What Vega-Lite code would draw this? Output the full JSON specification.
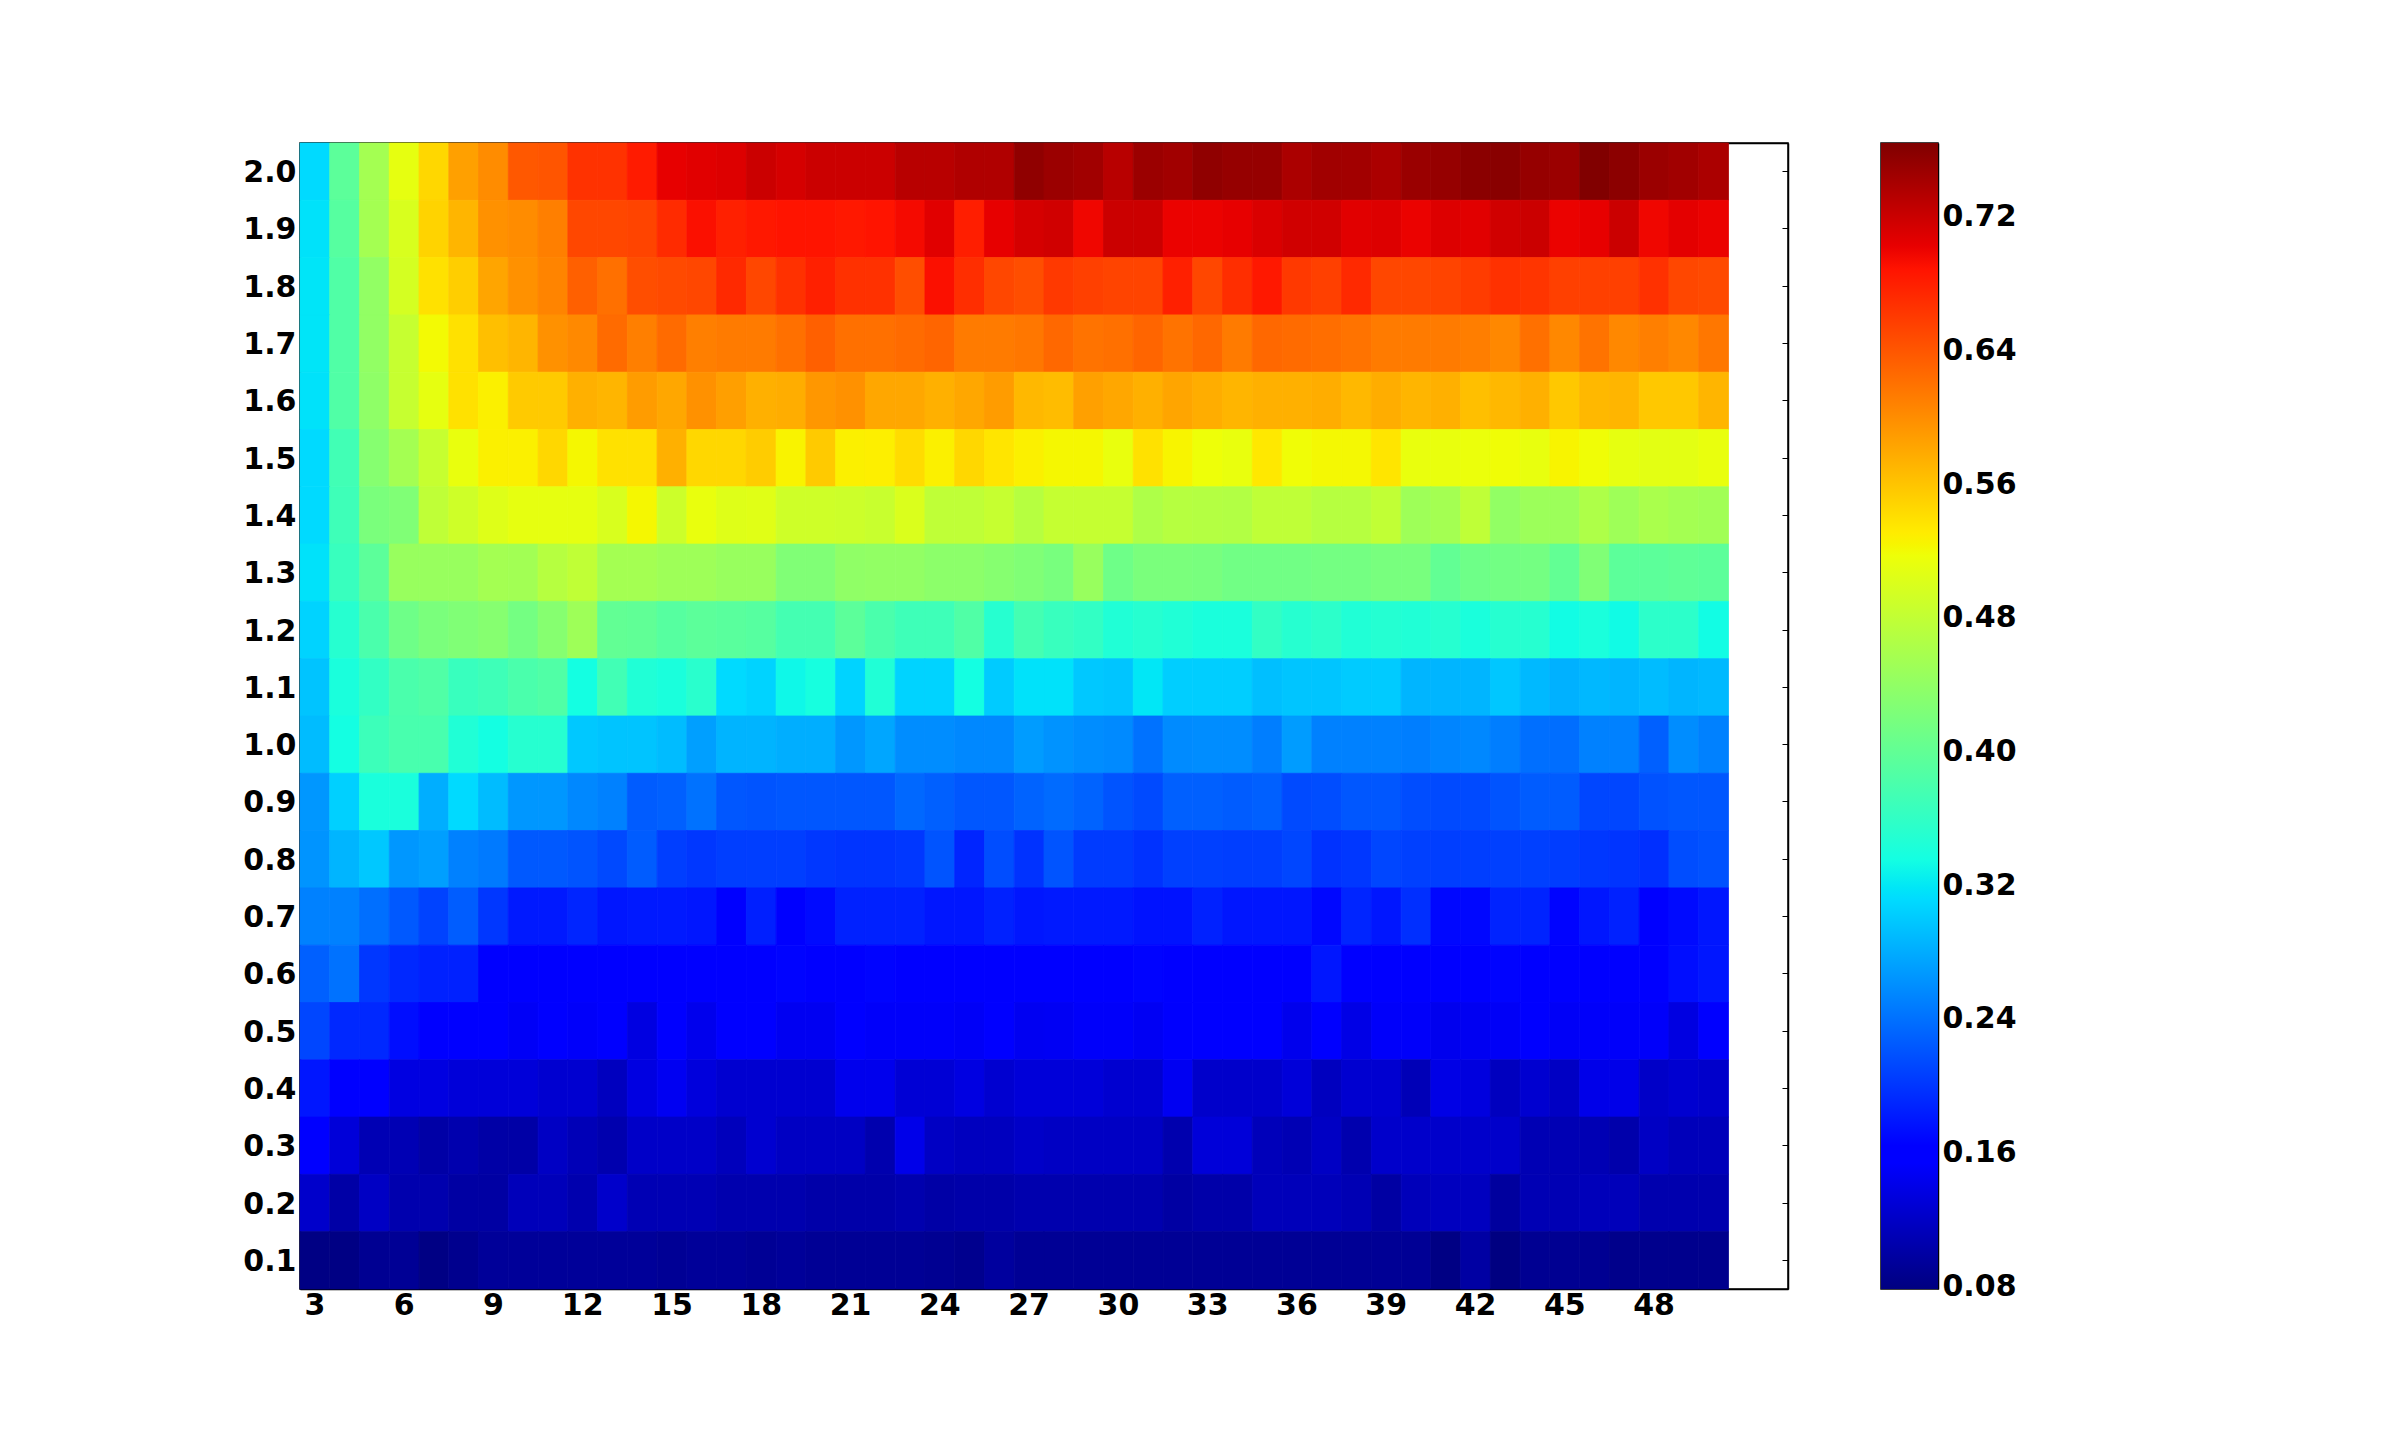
{"$schema":"https://vega.github.io/schema/vega-lite/v6.json","background":"white","padding":{"left":242,"top":141,"right":0,"bottom":0},"spacing":93,"bounds":"flush","config":{"axis":{"labelFont":"DejaVu Sans","labelFontWeight":"bold","labelFontSize":30,"labelColor":"black","tickColor":"black","domainColor":"black","domainWidth":1.5,"tickWidth":1,"grid":false,"title":null,"zindex":1}},"hconcat":[{"width":1488,"height":1146,"view":{"stroke":"black","strokeWidth":1.5},"data":{"values":[
{"x":3,"y":2,"v":0.31},{"x":4,"y":2,"v":0.395},{"x":5,"y":2,"v":0.455},{"x":6,"y":2,"v":0.51},{"x":7,"y":2,"v":0.545},{"x":8,"y":2,"v":0.585},{"x":9,"y":2,"v":0.6},{"x":10,"y":2,"v":0.638},{"x":11,"y":2,"v":0.64},{"x":12,"y":2,"v":0.665},{"x":13,"y":2,"v":0.665},{"x":14,"y":2,"v":0.682},{"x":15,"y":2,"v":0.702},{"x":16,"y":2,"v":0.706},{"x":17,"y":2,"v":0.708},{"x":18,"y":2,"v":0.719},{"x":19,"y":2,"v":0.713},{"x":20,"y":2,"v":0.719},{"x":21,"y":2,"v":0.719},{"x":22,"y":2,"v":0.719},{"x":23,"y":2,"v":0.73},{"x":24,"y":2,"v":0.73},{"x":25,"y":2,"v":0.735},{"x":26,"y":2,"v":0.735},{"x":27,"y":2,"v":0.754},{"x":28,"y":2,"v":0.747},{"x":29,"y":2,"v":0.744},{"x":30,"y":2,"v":0.73},{"x":31,"y":2,"v":0.747},{"x":32,"y":2,"v":0.744},{"x":33,"y":2,"v":0.754},{"x":34,"y":2,"v":0.75},{"x":35,"y":2,"v":0.75},{"x":36,"y":2,"v":0.738},{"x":37,"y":2,"v":0.744},{"x":38,"y":2,"v":0.743},{"x":39,"y":2,"v":0.738},{"x":40,"y":2,"v":0.748},{"x":41,"y":2,"v":0.75},{"x":42,"y":2,"v":0.757},{"x":43,"y":2,"v":0.758},{"x":44,"y":2,"v":0.75},{"x":45,"y":2,"v":0.747},{"x":46,"y":2,"v":0.763},{"x":47,"y":2,"v":0.756},{"x":48,"y":2,"v":0.747},{"x":49,"y":2,"v":0.744},{"x":50,"y":2,"v":0.738},
{"x":3,"y":1.9,"v":0.315},{"x":4,"y":1.9,"v":0.39},{"x":5,"y":1.9,"v":0.455},{"x":6,"y":1.9,"v":0.498},{"x":7,"y":1.9,"v":0.548},{"x":8,"y":1.9,"v":0.57},{"x":9,"y":1.9,"v":0.596},{"x":10,"y":1.9,"v":0.6},{"x":11,"y":1.9,"v":0.609},{"x":12,"y":1.9,"v":0.65},{"x":13,"y":1.9,"v":0.65},{"x":14,"y":1.9,"v":0.652},{"x":15,"y":1.9,"v":0.67},{"x":16,"y":1.9,"v":0.69},{"x":17,"y":1.9,"v":0.678},{"x":18,"y":1.9,"v":0.684},{"x":19,"y":1.9,"v":0.687},{"x":20,"y":1.9,"v":0.687},{"x":21,"y":1.9,"v":0.684},{"x":22,"y":1.9,"v":0.687},{"x":23,"y":1.9,"v":0.694},{"x":24,"y":1.9,"v":0.706},{"x":25,"y":1.9,"v":0.68},{"x":26,"y":1.9,"v":0.702},{"x":27,"y":1.9,"v":0.713},{"x":28,"y":1.9,"v":0.716},{"x":29,"y":1.9,"v":0.697},{"x":30,"y":1.9,"v":0.719},{"x":31,"y":1.9,"v":0.719},{"x":32,"y":1.9,"v":0.7},{"x":33,"y":1.9,"v":0.7},{"x":34,"y":1.9,"v":0.702},{"x":35,"y":1.9,"v":0.71},{"x":36,"y":1.9,"v":0.716},{"x":37,"y":1.9,"v":0.716},{"x":38,"y":1.9,"v":0.706},{"x":39,"y":1.9,"v":0.708},{"x":40,"y":1.9,"v":0.7},{"x":41,"y":1.9,"v":0.708},{"x":42,"y":1.9,"v":0.706},{"x":43,"y":1.9,"v":0.716},{"x":44,"y":1.9,"v":0.719},{"x":45,"y":1.9,"v":0.7},{"x":46,"y":1.9,"v":0.702},{"x":47,"y":1.9,"v":0.719},{"x":48,"y":1.9,"v":0.697},{"x":49,"y":1.9,"v":0.704},{"x":50,"y":1.9,"v":0.7},
{"x":3,"y":1.8,"v":0.317},{"x":4,"y":1.8,"v":0.385},{"x":5,"y":1.8,"v":0.44},{"x":6,"y":1.8,"v":0.495},{"x":7,"y":1.8,"v":0.538},{"x":8,"y":1.8,"v":0.552},{"x":9,"y":1.8,"v":0.582},{"x":10,"y":1.8,"v":0.596},{"x":11,"y":1.8,"v":0.606},{"x":12,"y":1.8,"v":0.632},{"x":13,"y":1.8,"v":0.62},{"x":14,"y":1.8,"v":0.645},{"x":15,"y":1.8,"v":0.648},{"x":16,"y":1.8,"v":0.65},{"x":17,"y":1.8,"v":0.672},{"x":18,"y":1.8,"v":0.65},{"x":19,"y":1.8,"v":0.666},{"x":20,"y":1.8,"v":0.678},{"x":21,"y":1.8,"v":0.666},{"x":22,"y":1.8,"v":0.666},{"x":23,"y":1.8,"v":0.645},{"x":24,"y":1.8,"v":0.69},{"x":25,"y":1.8,"v":0.668},{"x":26,"y":1.8,"v":0.65},{"x":27,"y":1.8,"v":0.645},{"x":28,"y":1.8,"v":0.66},{"x":29,"y":1.8,"v":0.655},{"x":30,"y":1.8,"v":0.652},{"x":31,"y":1.8,"v":0.652},{"x":32,"y":1.8,"v":0.678},{"x":33,"y":1.8,"v":0.65},{"x":34,"y":1.8,"v":0.668},{"x":35,"y":1.8,"v":0.684},{"x":36,"y":1.8,"v":0.66},{"x":37,"y":1.8,"v":0.655},{"x":38,"y":1.8,"v":0.672},{"x":39,"y":1.8,"v":0.65},{"x":40,"y":1.8,"v":0.65},{"x":41,"y":1.8,"v":0.652},{"x":42,"y":1.8,"v":0.658},{"x":43,"y":1.8,"v":0.666},{"x":44,"y":1.8,"v":0.663},{"x":45,"y":1.8,"v":0.655},{"x":46,"y":1.8,"v":0.655},{"x":47,"y":1.8,"v":0.655},{"x":48,"y":1.8,"v":0.666},{"x":49,"y":1.8,"v":0.65},{"x":50,"y":1.8,"v":0.648},
{"x":3,"y":1.7,"v":0.317},{"x":4,"y":1.7,"v":0.385},{"x":5,"y":1.7,"v":0.44},{"x":6,"y":1.7,"v":0.483},{"x":7,"y":1.7,"v":0.52},{"x":8,"y":1.7,"v":0.538},{"x":9,"y":1.7,"v":0.563},{"x":10,"y":1.7,"v":0.57},{"x":11,"y":1.7,"v":0.596},{"x":12,"y":1.7,"v":0.602},{"x":13,"y":1.7,"v":0.624},{"x":14,"y":1.7,"v":0.609},{"x":15,"y":1.7,"v":0.624},{"x":16,"y":1.7,"v":0.609},{"x":17,"y":1.7,"v":0.612},{"x":18,"y":1.7,"v":0.612},{"x":19,"y":1.7,"v":0.62},{"x":20,"y":1.7,"v":0.632},{"x":21,"y":1.7,"v":0.62},{"x":22,"y":1.7,"v":0.62},{"x":23,"y":1.7,"v":0.624},{"x":24,"y":1.7,"v":0.628},{"x":25,"y":1.7,"v":0.612},{"x":26,"y":1.7,"v":0.612},{"x":27,"y":1.7,"v":0.615},{"x":28,"y":1.7,"v":0.626},{"x":29,"y":1.7,"v":0.618},{"x":30,"y":1.7,"v":0.62},{"x":31,"y":1.7,"v":0.628},{"x":32,"y":1.7,"v":0.618},{"x":33,"y":1.7,"v":0.626},{"x":34,"y":1.7,"v":0.612},{"x":35,"y":1.7,"v":0.626},{"x":36,"y":1.7,"v":0.624},{"x":37,"y":1.7,"v":0.622},{"x":38,"y":1.7,"v":0.618},{"x":39,"y":1.7,"v":0.612},{"x":40,"y":1.7,"v":0.612},{"x":41,"y":1.7,"v":0.612},{"x":42,"y":1.7,"v":0.61},{"x":43,"y":1.7,"v":0.603},{"x":44,"y":1.7,"v":0.62},{"x":45,"y":1.7,"v":0.603},{"x":46,"y":1.7,"v":0.618},{"x":47,"y":1.7,"v":0.603},{"x":48,"y":1.7,"v":0.609},{"x":49,"y":1.7,"v":0.603},{"x":50,"y":1.7,"v":0.615},
{"x":3,"y":1.6,"v":0.315},{"x":4,"y":1.6,"v":0.385},{"x":5,"y":1.6,"v":0.437},{"x":6,"y":1.6,"v":0.483},{"x":7,"y":1.6,"v":0.51},{"x":8,"y":1.6,"v":0.538},{"x":9,"y":1.6,"v":0.527},{"x":10,"y":1.6,"v":0.555},{"x":11,"y":1.6,"v":0.555},{"x":12,"y":1.6,"v":0.574},{"x":13,"y":1.6,"v":0.57},{"x":14,"y":1.6,"v":0.588},{"x":15,"y":1.6,"v":0.58},{"x":16,"y":1.6,"v":0.596},{"x":17,"y":1.6,"v":0.586},{"x":18,"y":1.6,"v":0.574},{"x":19,"y":1.6,"v":0.576},{"x":20,"y":1.6,"v":0.592},{"x":21,"y":1.6,"v":0.596},{"x":22,"y":1.6,"v":0.58},{"x":23,"y":1.6,"v":0.58},{"x":24,"y":1.6,"v":0.574},{"x":25,"y":1.6,"v":0.58},{"x":26,"y":1.6,"v":0.588},{"x":27,"y":1.6,"v":0.568},{"x":28,"y":1.6,"v":0.565},{"x":29,"y":1.6,"v":0.585},{"x":30,"y":1.6,"v":0.58},{"x":31,"y":1.6,"v":0.574},{"x":32,"y":1.6,"v":0.582},{"x":33,"y":1.6,"v":0.576},{"x":34,"y":1.6,"v":0.57},{"x":35,"y":1.6,"v":0.574},{"x":36,"y":1.6,"v":0.574},{"x":37,"y":1.6,"v":0.576},{"x":38,"y":1.6,"v":0.568},{"x":39,"y":1.6,"v":0.576},{"x":40,"y":1.6,"v":0.57},{"x":41,"y":1.6,"v":0.574},{"x":42,"y":1.6,"v":0.563},{"x":43,"y":1.6,"v":0.568},{"x":44,"y":1.6,"v":0.574},{"x":45,"y":1.6,"v":0.556},{"x":46,"y":1.6,"v":0.568},{"x":47,"y":1.6,"v":0.57},{"x":48,"y":1.6,"v":0.556},{"x":49,"y":1.6,"v":0.556},{"x":50,"y":1.6,"v":0.57},
{"x":3,"y":1.5,"v":0.31},{"x":4,"y":1.5,"v":0.372},{"x":5,"y":1.5,"v":0.43},{"x":6,"y":1.5,"v":0.455},{"x":7,"y":1.5,"v":0.483},{"x":8,"y":1.5,"v":0.512},{"x":9,"y":1.5,"v":0.527},{"x":10,"y":1.5,"v":0.527},{"x":11,"y":1.5,"v":0.545},{"x":12,"y":1.5,"v":0.522},{"x":13,"y":1.5,"v":0.538},{"x":14,"y":1.5,"v":0.538},{"x":15,"y":1.5,"v":0.574},{"x":16,"y":1.5,"v":0.545},{"x":17,"y":1.5,"v":0.545},{"x":18,"y":1.5,"v":0.553},{"x":19,"y":1.5,"v":0.525},{"x":20,"y":1.5,"v":0.555},{"x":21,"y":1.5,"v":0.527},{"x":22,"y":1.5,"v":0.528},{"x":23,"y":1.5,"v":0.542},{"x":24,"y":1.5,"v":0.527},{"x":25,"y":1.5,"v":0.545},{"x":26,"y":1.5,"v":0.535},{"x":27,"y":1.5,"v":0.527},{"x":28,"y":1.5,"v":0.522},{"x":29,"y":1.5,"v":0.522},{"x":30,"y":1.5,"v":0.512},{"x":31,"y":1.5,"v":0.538},{"x":32,"y":1.5,"v":0.524},{"x":33,"y":1.5,"v":0.516},{"x":34,"y":1.5,"v":0.512},{"x":35,"y":1.5,"v":0.533},{"x":36,"y":1.5,"v":0.518},{"x":37,"y":1.5,"v":0.521},{"x":38,"y":1.5,"v":0.521},{"x":39,"y":1.5,"v":0.535},{"x":40,"y":1.5,"v":0.512},{"x":41,"y":1.5,"v":0.512},{"x":42,"y":1.5,"v":0.514},{"x":43,"y":1.5,"v":0.518},{"x":44,"y":1.5,"v":0.511},{"x":45,"y":1.5,"v":0.524},{"x":46,"y":1.5,"v":0.518},{"x":47,"y":1.5,"v":0.51},{"x":48,"y":1.5,"v":0.507},{"x":49,"y":1.5,"v":0.507},{"x":50,"y":1.5,"v":0.512},
{"x":3,"y":1.4,"v":0.31},{"x":4,"y":1.4,"v":0.37},{"x":5,"y":1.4,"v":0.42},{"x":6,"y":1.4,"v":0.425},{"x":7,"y":1.4,"v":0.477},{"x":8,"y":1.4,"v":0.49},{"x":9,"y":1.4,"v":0.503},{"x":10,"y":1.4,"v":0.51},{"x":11,"y":1.4,"v":0.51},{"x":12,"y":1.4,"v":0.51},{"x":13,"y":1.4,"v":0.498},{"x":14,"y":1.4,"v":0.522},{"x":15,"y":1.4,"v":0.488},{"x":16,"y":1.4,"v":0.512},{"x":17,"y":1.4,"v":0.503},{"x":18,"y":1.4,"v":0.505},{"x":19,"y":1.4,"v":0.49},{"x":20,"y":1.4,"v":0.49},{"x":21,"y":1.4,"v":0.488},{"x":22,"y":1.4,"v":0.485},{"x":23,"y":1.4,"v":0.5},{"x":24,"y":1.4,"v":0.477},{"x":25,"y":1.4,"v":0.477},{"x":26,"y":1.4,"v":0.483},{"x":27,"y":1.4,"v":0.47},{"x":28,"y":1.4,"v":0.482},{"x":29,"y":1.4,"v":0.482},{"x":30,"y":1.4,"v":0.482},{"x":31,"y":1.4,"v":0.463},{"x":32,"y":1.4,"v":0.47},{"x":33,"y":1.4,"v":0.468},{"x":34,"y":1.4,"v":0.466},{"x":35,"y":1.4,"v":0.477},{"x":36,"y":1.4,"v":0.477},{"x":37,"y":1.4,"v":0.47},{"x":38,"y":1.4,"v":0.47},{"x":39,"y":1.4,"v":0.479},{"x":40,"y":1.4,"v":0.45},{"x":41,"y":1.4,"v":0.455},{"x":42,"y":1.4,"v":0.477},{"x":43,"y":1.4,"v":0.44},{"x":44,"y":1.4,"v":0.448},{"x":45,"y":1.4,"v":0.448},{"x":46,"y":1.4,"v":0.463},{"x":47,"y":1.4,"v":0.45},{"x":48,"y":1.4,"v":0.46},{"x":49,"y":1.4,"v":0.455},{"x":50,"y":1.4,"v":0.452},
{"x":3,"y":1.3,"v":0.315},{"x":4,"y":1.3,"v":0.365},{"x":5,"y":1.3,"v":0.395},{"x":6,"y":1.3,"v":0.445},{"x":7,"y":1.3,"v":0.445},{"x":8,"y":1.3,"v":0.445},{"x":9,"y":1.3,"v":0.455},{"x":10,"y":1.3,"v":0.453},{"x":11,"y":1.3,"v":0.47},{"x":12,"y":1.3,"v":0.478},{"x":13,"y":1.3,"v":0.455},{"x":14,"y":1.3,"v":0.455},{"x":15,"y":1.3,"v":0.45},{"x":16,"y":1.3,"v":0.45},{"x":17,"y":1.3,"v":0.445},{"x":18,"y":1.3,"v":0.445},{"x":19,"y":1.3,"v":0.425},{"x":20,"y":1.3,"v":0.425},{"x":21,"y":1.3,"v":0.438},{"x":22,"y":1.3,"v":0.44},{"x":23,"y":1.3,"v":0.44},{"x":24,"y":1.3,"v":0.435},{"x":25,"y":1.3,"v":0.435},{"x":26,"y":1.3,"v":0.43},{"x":27,"y":1.3,"v":0.425},{"x":28,"y":1.3,"v":0.418},{"x":29,"y":1.3,"v":0.445},{"x":30,"y":1.3,"v":0.41},{"x":31,"y":1.3,"v":0.42},{"x":32,"y":1.3,"v":0.42},{"x":33,"y":1.3,"v":0.418},{"x":34,"y":1.3,"v":0.412},{"x":35,"y":1.3,"v":0.412},{"x":36,"y":1.3,"v":0.412},{"x":37,"y":1.3,"v":0.415},{"x":38,"y":1.3,"v":0.415},{"x":39,"y":1.3,"v":0.418},{"x":40,"y":1.3,"v":0.418},{"x":41,"y":1.3,"v":0.4},{"x":42,"y":1.3,"v":0.41},{"x":43,"y":1.3,"v":0.413},{"x":44,"y":1.3,"v":0.415},{"x":45,"y":1.3,"v":0.4},{"x":46,"y":1.3,"v":0.425},{"x":47,"y":1.3,"v":0.395},{"x":48,"y":1.3,"v":0.395},{"x":49,"y":1.3,"v":0.397},{"x":50,"y":1.3,"v":0.395},
{"x":3,"y":1.2,"v":0.305},{"x":4,"y":1.2,"v":0.35},{"x":5,"y":1.2,"v":0.38},{"x":6,"y":1.2,"v":0.41},{"x":7,"y":1.2,"v":0.42},{"x":8,"y":1.2,"v":0.425},{"x":9,"y":1.2,"v":0.43},{"x":10,"y":1.2,"v":0.415},{"x":11,"y":1.2,"v":0.43},{"x":12,"y":1.2,"v":0.45},{"x":13,"y":1.2,"v":0.4},{"x":14,"y":1.2,"v":0.398},{"x":15,"y":1.2,"v":0.39},{"x":16,"y":1.2,"v":0.395},{"x":17,"y":1.2,"v":0.392},{"x":18,"y":1.2,"v":0.39},{"x":19,"y":1.2,"v":0.375},{"x":20,"y":1.2,"v":0.375},{"x":21,"y":1.2,"v":0.395},{"x":22,"y":1.2,"v":0.38},{"x":23,"y":1.2,"v":0.37},{"x":24,"y":1.2,"v":0.37},{"x":25,"y":1.2,"v":0.385},{"x":26,"y":1.2,"v":0.35},{"x":27,"y":1.2,"v":0.375},{"x":28,"y":1.2,"v":0.365},{"x":29,"y":1.2,"v":0.36},{"x":30,"y":1.2,"v":0.345},{"x":31,"y":1.2,"v":0.35},{"x":32,"y":1.2,"v":0.345},{"x":33,"y":1.2,"v":0.34},{"x":34,"y":1.2,"v":0.34},{"x":35,"y":1.2,"v":0.36},{"x":36,"y":1.2,"v":0.35},{"x":37,"y":1.2,"v":0.355},{"x":38,"y":1.2,"v":0.345},{"x":39,"y":1.2,"v":0.348},{"x":40,"y":1.2,"v":0.345},{"x":41,"y":1.2,"v":0.35},{"x":42,"y":1.2,"v":0.34},{"x":43,"y":1.2,"v":0.35},{"x":44,"y":1.2,"v":0.35},{"x":45,"y":1.2,"v":0.333},{"x":46,"y":1.2,"v":0.34},{"x":47,"y":1.2,"v":0.332},{"x":48,"y":1.2,"v":0.355},{"x":49,"y":1.2,"v":0.355},{"x":50,"y":1.2,"v":0.333},
{"x":3,"y":1.1,"v":0.295},{"x":4,"y":1.1,"v":0.34},{"x":5,"y":1.1,"v":0.36},{"x":6,"y":1.1,"v":0.38},{"x":7,"y":1.1,"v":0.385},{"x":8,"y":1.1,"v":0.365},{"x":9,"y":1.1,"v":0.37},{"x":10,"y":1.1,"v":0.38},{"x":11,"y":1.1,"v":0.385},{"x":12,"y":1.1,"v":0.335},{"x":13,"y":1.1,"v":0.372},{"x":14,"y":1.1,"v":0.345},{"x":15,"y":1.1,"v":0.34},{"x":16,"y":1.1,"v":0.352},{"x":17,"y":1.1,"v":0.31},{"x":18,"y":1.1,"v":0.305},{"x":19,"y":1.1,"v":0.33},{"x":20,"y":1.1,"v":0.337},{"x":21,"y":1.1,"v":0.305},{"x":22,"y":1.1,"v":0.345},{"x":23,"y":1.1,"v":0.305},{"x":24,"y":1.1,"v":0.305},{"x":25,"y":1.1,"v":0.335},{"x":26,"y":1.1,"v":0.3},{"x":27,"y":1.1,"v":0.315},{"x":28,"y":1.1,"v":0.315},{"x":29,"y":1.1,"v":0.298},{"x":30,"y":1.1,"v":0.296},{"x":31,"y":1.1,"v":0.318},{"x":32,"y":1.1,"v":0.302},{"x":33,"y":1.1,"v":0.302},{"x":34,"y":1.1,"v":0.302},{"x":35,"y":1.1,"v":0.292},{"x":36,"y":1.1,"v":0.296},{"x":37,"y":1.1,"v":0.296},{"x":38,"y":1.1,"v":0.3},{"x":39,"y":1.1,"v":0.3},{"x":40,"y":1.1,"v":0.285},{"x":41,"y":1.1,"v":0.285},{"x":42,"y":1.1,"v":0.285},{"x":43,"y":1.1,"v":0.297},{"x":44,"y":1.1,"v":0.288},{"x":45,"y":1.1,"v":0.282},{"x":46,"y":1.1,"v":0.287},{"x":47,"y":1.1,"v":0.285},{"x":48,"y":1.1,"v":0.29},{"x":49,"y":1.1,"v":0.285},{"x":50,"y":1.1,"v":0.288},
{"x":3,"y":1,"v":0.29},{"x":4,"y":1,"v":0.335},{"x":5,"y":1,"v":0.368},{"x":6,"y":1,"v":0.378},{"x":7,"y":1,"v":0.378},{"x":8,"y":1,"v":0.345},{"x":9,"y":1,"v":0.335},{"x":10,"y":1,"v":0.35},{"x":11,"y":1,"v":0.35},{"x":12,"y":1,"v":0.298},{"x":13,"y":1,"v":0.295},{"x":14,"y":1,"v":0.295},{"x":15,"y":1,"v":0.29},{"x":16,"y":1,"v":0.27},{"x":17,"y":1,"v":0.284},{"x":18,"y":1,"v":0.284},{"x":19,"y":1,"v":0.28},{"x":20,"y":1,"v":0.28},{"x":21,"y":1,"v":0.265},{"x":22,"y":1,"v":0.275},{"x":23,"y":1,"v":0.258},{"x":24,"y":1,"v":0.258},{"x":25,"y":1,"v":0.255},{"x":26,"y":1,"v":0.255},{"x":27,"y":1,"v":0.268},{"x":28,"y":1,"v":0.262},{"x":29,"y":1,"v":0.258},{"x":30,"y":1,"v":0.256},{"x":31,"y":1,"v":0.24},{"x":32,"y":1,"v":0.257},{"x":33,"y":1,"v":0.258},{"x":34,"y":1,"v":0.258},{"x":35,"y":1,"v":0.248},{"x":36,"y":1,"v":0.268},{"x":37,"y":1,"v":0.25},{"x":38,"y":1,"v":0.25},{"x":39,"y":1,"v":0.25},{"x":40,"y":1,"v":0.248},{"x":41,"y":1,"v":0.253},{"x":42,"y":1,"v":0.255},{"x":43,"y":1,"v":0.248},{"x":44,"y":1,"v":0.238},{"x":45,"y":1,"v":0.237},{"x":46,"y":1,"v":0.25},{"x":47,"y":1,"v":0.25},{"x":48,"y":1,"v":0.228},{"x":49,"y":1,"v":0.258},{"x":50,"y":1,"v":0.25},
{"x":3,"y":0.9,"v":0.265},{"x":4,"y":0.9,"v":0.303},{"x":5,"y":0.9,"v":0.34},{"x":6,"y":0.9,"v":0.34},{"x":7,"y":0.9,"v":0.28},{"x":8,"y":0.9,"v":0.31},{"x":9,"y":0.9,"v":0.29},{"x":10,"y":0.9,"v":0.265},{"x":11,"y":0.9,"v":0.265},{"x":12,"y":0.9,"v":0.255},{"x":13,"y":0.9,"v":0.25},{"x":14,"y":0.9,"v":0.225},{"x":15,"y":0.9,"v":0.228},{"x":16,"y":0.9,"v":0.24},{"x":17,"y":0.9,"v":0.222},{"x":18,"y":0.9,"v":0.22},{"x":19,"y":0.9,"v":0.222},{"x":20,"y":0.9,"v":0.222},{"x":21,"y":0.9,"v":0.222},{"x":22,"y":0.9,"v":0.222},{"x":23,"y":0.9,"v":0.233},{"x":24,"y":0.9,"v":0.228},{"x":25,"y":0.9,"v":0.222},{"x":26,"y":0.9,"v":0.222},{"x":27,"y":0.9,"v":0.23},{"x":28,"y":0.9,"v":0.235},{"x":29,"y":0.9,"v":0.23},{"x":30,"y":0.9,"v":0.22},{"x":31,"y":0.9,"v":0.213},{"x":32,"y":0.9,"v":0.228},{"x":33,"y":0.9,"v":0.228},{"x":34,"y":0.9,"v":0.225},{"x":35,"y":0.9,"v":0.228},{"x":36,"y":0.9,"v":0.213},{"x":37,"y":0.9,"v":0.215},{"x":38,"y":0.9,"v":0.222},{"x":39,"y":0.9,"v":0.222},{"x":40,"y":0.9,"v":0.215},{"x":41,"y":0.9,"v":0.213},{"x":42,"y":0.9,"v":0.213},{"x":43,"y":0.9,"v":0.22},{"x":44,"y":0.9,"v":0.225},{"x":45,"y":0.9,"v":0.225},{"x":46,"y":0.9,"v":0.21},{"x":47,"y":0.9,"v":0.21},{"x":48,"y":0.9,"v":0.218},{"x":49,"y":0.9,"v":0.222},{"x":50,"y":0.9,"v":0.222},
{"x":3,"y":0.8,"v":0.263},{"x":4,"y":0.8,"v":0.285},{"x":5,"y":0.8,"v":0.298},{"x":6,"y":0.8,"v":0.265},{"x":7,"y":0.8,"v":0.27},{"x":8,"y":0.8,"v":0.25},{"x":9,"y":0.8,"v":0.245},{"x":10,"y":0.8,"v":0.223},{"x":11,"y":0.8,"v":0.223},{"x":12,"y":0.8,"v":0.22},{"x":13,"y":0.8,"v":0.212},{"x":14,"y":0.8,"v":0.225},{"x":15,"y":0.8,"v":0.205},{"x":16,"y":0.8,"v":0.2},{"x":17,"y":0.8,"v":0.205},{"x":18,"y":0.8,"v":0.205},{"x":19,"y":0.8,"v":0.205},{"x":20,"y":0.8,"v":0.2},{"x":21,"y":0.8,"v":0.198},{"x":22,"y":0.8,"v":0.198},{"x":23,"y":0.8,"v":0.2},{"x":24,"y":0.8,"v":0.22},{"x":25,"y":0.8,"v":0.188},{"x":26,"y":0.8,"v":0.215},{"x":27,"y":0.8,"v":0.197},{"x":28,"y":0.8,"v":0.22},{"x":29,"y":0.8,"v":0.203},{"x":30,"y":0.8,"v":0.203},{"x":31,"y":0.8,"v":0.197},{"x":32,"y":0.8,"v":0.206},{"x":33,"y":0.8,"v":0.206},{"x":34,"y":0.8,"v":0.205},{"x":35,"y":0.8,"v":0.205},{"x":36,"y":0.8,"v":0.21},{"x":37,"y":0.8,"v":0.197},{"x":38,"y":0.8,"v":0.2},{"x":39,"y":0.8,"v":0.21},{"x":40,"y":0.8,"v":0.206},{"x":41,"y":0.8,"v":0.205},{"x":42,"y":0.8,"v":0.205},{"x":43,"y":0.8,"v":0.206},{"x":44,"y":0.8,"v":0.206},{"x":45,"y":0.8,"v":0.204},{"x":46,"y":0.8,"v":0.2},{"x":47,"y":0.8,"v":0.198},{"x":48,"y":0.8,"v":0.195},{"x":49,"y":0.8,"v":0.215},{"x":50,"y":0.8,"v":0.218},
{"x":3,"y":0.7,"v":0.25},{"x":4,"y":0.7,"v":0.25},{"x":5,"y":0.7,"v":0.238},{"x":6,"y":0.7,"v":0.223},{"x":7,"y":0.7,"v":0.208},{"x":8,"y":0.7,"v":0.226},{"x":9,"y":0.7,"v":0.2},{"x":10,"y":0.7,"v":0.18},{"x":11,"y":0.7,"v":0.18},{"x":12,"y":0.7,"v":0.188},{"x":13,"y":0.7,"v":0.178},{"x":14,"y":0.7,"v":0.18},{"x":15,"y":0.7,"v":0.18},{"x":16,"y":0.7,"v":0.178},{"x":17,"y":0.7,"v":0.16},{"x":18,"y":0.7,"v":0.184},{"x":19,"y":0.7,"v":0.16},{"x":20,"y":0.7,"v":0.17},{"x":21,"y":0.7,"v":0.185},{"x":22,"y":0.7,"v":0.185},{"x":23,"y":0.7,"v":0.185},{"x":24,"y":0.7,"v":0.178},{"x":25,"y":0.7,"v":0.178},{"x":26,"y":0.7,"v":0.185},{"x":27,"y":0.7,"v":0.178},{"x":28,"y":0.7,"v":0.18},{"x":29,"y":0.7,"v":0.18},{"x":30,"y":0.7,"v":0.18},{"x":31,"y":0.7,"v":0.175},{"x":32,"y":0.7,"v":0.175},{"x":33,"y":0.7,"v":0.185},{"x":34,"y":0.7,"v":0.178},{"x":35,"y":0.7,"v":0.178},{"x":36,"y":0.7,"v":0.178},{"x":37,"y":0.7,"v":0.168},{"x":38,"y":0.7,"v":0.188},{"x":39,"y":0.7,"v":0.178},{"x":40,"y":0.7,"v":0.195},{"x":41,"y":0.7,"v":0.168},{"x":42,"y":0.7,"v":0.168},{"x":43,"y":0.7,"v":0.187},{"x":44,"y":0.7,"v":0.187},{"x":45,"y":0.7,"v":0.165},{"x":46,"y":0.7,"v":0.178},{"x":47,"y":0.7,"v":0.185},{"x":48,"y":0.7,"v":0.163},{"x":49,"y":0.7,"v":0.17},{"x":50,"y":0.7,"v":0.178},
{"x":3,"y":0.6,"v":0.228},{"x":4,"y":0.6,"v":0.24},{"x":5,"y":0.6,"v":0.2},{"x":6,"y":0.6,"v":0.19},{"x":7,"y":0.6,"v":0.185},{"x":8,"y":0.6,"v":0.185},{"x":9,"y":0.6,"v":0.16},{"x":10,"y":0.6,"v":0.163},{"x":11,"y":0.6,"v":0.16},{"x":12,"y":0.6,"v":0.155},{"x":13,"y":0.6,"v":0.155},{"x":14,"y":0.6,"v":0.156},{"x":15,"y":0.6,"v":0.154},{"x":16,"y":0.6,"v":0.155},{"x":17,"y":0.6,"v":0.155},{"x":18,"y":0.6,"v":0.155},{"x":19,"y":0.6,"v":0.165},{"x":20,"y":0.6,"v":0.155},{"x":21,"y":0.6,"v":0.156},{"x":22,"y":0.6,"v":0.165},{"x":23,"y":0.6,"v":0.153},{"x":24,"y":0.6,"v":0.155},{"x":25,"y":0.6,"v":0.155},{"x":26,"y":0.6,"v":0.155},{"x":27,"y":0.6,"v":0.16},{"x":28,"y":0.6,"v":0.16},{"x":29,"y":0.6,"v":0.156},{"x":30,"y":0.6,"v":0.153},{"x":31,"y":0.6,"v":0.165},{"x":32,"y":0.6,"v":0.158},{"x":33,"y":0.6,"v":0.155},{"x":34,"y":0.6,"v":0.155},{"x":35,"y":0.6,"v":0.155},{"x":36,"y":0.6,"v":0.156},{"x":37,"y":0.6,"v":0.178},{"x":38,"y":0.6,"v":0.153},{"x":39,"y":0.6,"v":0.163},{"x":40,"y":0.6,"v":0.156},{"x":41,"y":0.6,"v":0.153},{"x":42,"y":0.6,"v":0.155},{"x":43,"y":0.6,"v":0.165},{"x":44,"y":0.6,"v":0.155},{"x":45,"y":0.6,"v":0.155},{"x":46,"y":0.6,"v":0.155},{"x":47,"y":0.6,"v":0.16},{"x":48,"y":0.6,"v":0.153},{"x":49,"y":0.6,"v":0.172},{"x":50,"y":0.6,"v":0.178},
{"x":3,"y":0.5,"v":0.21},{"x":4,"y":0.5,"v":0.19},{"x":5,"y":0.5,"v":0.19},{"x":6,"y":0.5,"v":0.172},{"x":7,"y":0.5,"v":0.155},{"x":8,"y":0.5,"v":0.155},{"x":9,"y":0.5,"v":0.155},{"x":10,"y":0.5,"v":0.148},{"x":11,"y":0.5,"v":0.153},{"x":12,"y":0.5,"v":0.15},{"x":13,"y":0.5,"v":0.155},{"x":14,"y":0.5,"v":0.135},{"x":15,"y":0.5,"v":0.155},{"x":16,"y":0.5,"v":0.142},{"x":17,"y":0.5,"v":0.155},{"x":18,"y":0.5,"v":0.155},{"x":19,"y":0.5,"v":0.145},{"x":20,"y":0.5,"v":0.145},{"x":21,"y":0.5,"v":0.155},{"x":22,"y":0.5,"v":0.15},{"x":23,"y":0.5,"v":0.15},{"x":24,"y":0.5,"v":0.15},{"x":25,"y":0.5,"v":0.148},{"x":26,"y":0.5,"v":0.155},{"x":27,"y":0.5,"v":0.145},{"x":28,"y":0.5,"v":0.146},{"x":29,"y":0.5,"v":0.15},{"x":30,"y":0.5,"v":0.15},{"x":31,"y":0.5,"v":0.146},{"x":32,"y":0.5,"v":0.152},{"x":33,"y":0.5,"v":0.155},{"x":34,"y":0.5,"v":0.155},{"x":35,"y":0.5,"v":0.155},{"x":36,"y":0.5,"v":0.142},{"x":37,"y":0.5,"v":0.155},{"x":38,"y":0.5,"v":0.138},{"x":39,"y":0.5,"v":0.15},{"x":40,"y":0.5,"v":0.15},{"x":41,"y":0.5,"v":0.143},{"x":42,"y":0.5,"v":0.145},{"x":43,"y":0.5,"v":0.148},{"x":44,"y":0.5,"v":0.155},{"x":45,"y":0.5,"v":0.148},{"x":46,"y":0.5,"v":0.15},{"x":47,"y":0.5,"v":0.15},{"x":48,"y":0.5,"v":0.15},{"x":49,"y":0.5,"v":0.135},{"x":50,"y":0.5,"v":0.155},
{"x":3,"y":0.4,"v":0.178},{"x":4,"y":0.4,"v":0.155},{"x":5,"y":0.4,"v":0.155},{"x":6,"y":0.4,"v":0.135},{"x":7,"y":0.4,"v":0.135},{"x":8,"y":0.4,"v":0.13},{"x":9,"y":0.4,"v":0.13},{"x":10,"y":0.4,"v":0.13},{"x":11,"y":0.4,"v":0.125},{"x":12,"y":0.4,"v":0.125},{"x":13,"y":0.4,"v":0.115},{"x":14,"y":0.4,"v":0.135},{"x":15,"y":0.4,"v":0.145},{"x":16,"y":0.4,"v":0.132},{"x":17,"y":0.4,"v":0.125},{"x":18,"y":0.4,"v":0.125},{"x":19,"y":0.4,"v":0.125},{"x":20,"y":0.4,"v":0.125},{"x":21,"y":0.4,"v":0.142},{"x":22,"y":0.4,"v":0.142},{"x":23,"y":0.4,"v":0.128},{"x":24,"y":0.4,"v":0.128},{"x":25,"y":0.4,"v":0.135},{"x":26,"y":0.4,"v":0.125},{"x":27,"y":0.4,"v":0.13},{"x":28,"y":0.4,"v":0.13},{"x":29,"y":0.4,"v":0.13},{"x":30,"y":0.4,"v":0.125},{"x":31,"y":0.4,"v":0.125},{"x":32,"y":0.4,"v":0.145},{"x":33,"y":0.4,"v":0.122},{"x":34,"y":0.4,"v":0.122},{"x":35,"y":0.4,"v":0.122},{"x":36,"y":0.4,"v":0.13},{"x":37,"y":0.4,"v":0.115},{"x":38,"y":0.4,"v":0.125},{"x":39,"y":0.4,"v":0.125},{"x":40,"y":0.4,"v":0.11},{"x":41,"y":0.4,"v":0.138},{"x":42,"y":0.4,"v":0.133},{"x":43,"y":0.4,"v":0.115},{"x":44,"y":0.4,"v":0.125},{"x":45,"y":0.4,"v":0.118},{"x":46,"y":0.4,"v":0.14},{"x":47,"y":0.4,"v":0.14},{"x":48,"y":0.4,"v":0.12},{"x":49,"y":0.4,"v":0.125},{"x":50,"y":0.4,"v":0.122},
{"x":3,"y":0.3,"v":0.155},{"x":4,"y":0.3,"v":0.13},{"x":5,"y":0.3,"v":0.108},{"x":6,"y":0.3,"v":0.108},{"x":7,"y":0.3,"v":0.1},{"x":8,"y":0.3,"v":0.105},{"x":9,"y":0.3,"v":0.1},{"x":10,"y":0.3,"v":0.1},{"x":11,"y":0.3,"v":0.118},{"x":12,"y":0.3,"v":0.11},{"x":13,"y":0.3,"v":0.105},{"x":14,"y":0.3,"v":0.12},{"x":15,"y":0.3,"v":0.12},{"x":16,"y":0.3,"v":0.12},{"x":17,"y":0.3,"v":0.113},{"x":18,"y":0.3,"v":0.125},{"x":19,"y":0.3,"v":0.117},{"x":20,"y":0.3,"v":0.117},{"x":21,"y":0.3,"v":0.117},{"x":22,"y":0.3,"v":0.105},{"x":23,"y":0.3,"v":0.14},{"x":24,"y":0.3,"v":0.118},{"x":25,"y":0.3,"v":0.115},{"x":26,"y":0.3,"v":0.115},{"x":27,"y":0.3,"v":0.12},{"x":28,"y":0.3,"v":0.118},{"x":29,"y":0.3,"v":0.118},{"x":30,"y":0.3,"v":0.118},{"x":31,"y":0.3,"v":0.118},{"x":32,"y":0.3,"v":0.105},{"x":33,"y":0.3,"v":0.13},{"x":34,"y":0.3,"v":0.13},{"x":35,"y":0.3,"v":0.112},{"x":36,"y":0.3,"v":0.108},{"x":37,"y":0.3,"v":0.118},{"x":38,"y":0.3,"v":0.105},{"x":39,"y":0.3,"v":0.122},{"x":40,"y":0.3,"v":0.122},{"x":41,"y":0.3,"v":0.122},{"x":42,"y":0.3,"v":0.122},{"x":43,"y":0.3,"v":0.122},{"x":44,"y":0.3,"v":0.108},{"x":45,"y":0.3,"v":0.108},{"x":46,"y":0.3,"v":0.108},{"x":47,"y":0.3,"v":0.103},{"x":48,"y":0.3,"v":0.118},{"x":49,"y":0.3,"v":0.112},{"x":50,"y":0.3,"v":0.112},
{"x":3,"y":0.2,"v":0.122},{"x":4,"y":0.2,"v":0.1},{"x":5,"y":0.2,"v":0.118},{"x":6,"y":0.2,"v":0.105},{"x":7,"y":0.2,"v":0.105},{"x":8,"y":0.2,"v":0.098},{"x":9,"y":0.2,"v":0.098},{"x":10,"y":0.2,"v":0.112},{"x":11,"y":0.2,"v":0.112},{"x":12,"y":0.2,"v":0.105},{"x":13,"y":0.2,"v":0.122},{"x":14,"y":0.2,"v":0.108},{"x":15,"y":0.2,"v":0.108},{"x":16,"y":0.2,"v":0.108},{"x":17,"y":0.2,"v":0.105},{"x":18,"y":0.2,"v":0.105},{"x":19,"y":0.2,"v":0.105},{"x":20,"y":0.2,"v":0.102},{"x":21,"y":0.2,"v":0.102},{"x":22,"y":0.2,"v":0.102},{"x":23,"y":0.2,"v":0.105},{"x":24,"y":0.2,"v":0.1},{"x":25,"y":0.2,"v":0.102},{"x":26,"y":0.2,"v":0.102},{"x":27,"y":0.2,"v":0.105},{"x":28,"y":0.2,"v":0.105},{"x":29,"y":0.2,"v":0.105},{"x":30,"y":0.2,"v":0.105},{"x":31,"y":0.2,"v":0.105},{"x":32,"y":0.2,"v":0.098},{"x":33,"y":0.2,"v":0.102},{"x":34,"y":0.2,"v":0.102},{"x":35,"y":0.2,"v":0.112},{"x":36,"y":0.2,"v":0.112},{"x":37,"y":0.2,"v":0.112},{"x":38,"y":0.2,"v":0.108},{"x":39,"y":0.2,"v":0.098},{"x":40,"y":0.2,"v":0.112},{"x":41,"y":0.2,"v":0.115},{"x":42,"y":0.2,"v":0.115},{"x":43,"y":0.2,"v":0.095},{"x":44,"y":0.2,"v":0.108},{"x":45,"y":0.2,"v":0.108},{"x":46,"y":0.2,"v":0.112},{"x":47,"y":0.2,"v":0.112},{"x":48,"y":0.2,"v":0.105},{"x":49,"y":0.2,"v":0.105},{"x":50,"y":0.2,"v":0.105},
{"x":3,"y":0.1,"v":0.08},{"x":4,"y":0.1,"v":0.08},{"x":5,"y":0.1,"v":0.088},{"x":6,"y":0.1,"v":0.09},{"x":7,"y":0.1,"v":0.08},{"x":8,"y":0.1,"v":0.086},{"x":9,"y":0.1,"v":0.092},{"x":10,"y":0.1,"v":0.092},{"x":11,"y":0.1,"v":0.092},{"x":12,"y":0.1,"v":0.092},{"x":13,"y":0.1,"v":0.092},{"x":14,"y":0.1,"v":0.092},{"x":15,"y":0.1,"v":0.09},{"x":16,"y":0.1,"v":0.092},{"x":17,"y":0.1,"v":0.092},{"x":18,"y":0.1,"v":0.09},{"x":19,"y":0.1,"v":0.092},{"x":20,"y":0.1,"v":0.09},{"x":21,"y":0.1,"v":0.09},{"x":22,"y":0.1,"v":0.09},{"x":23,"y":0.1,"v":0.09},{"x":24,"y":0.1,"v":0.088},{"x":25,"y":0.1,"v":0.086},{"x":26,"y":0.1,"v":0.095},{"x":27,"y":0.1,"v":0.09},{"x":28,"y":0.1,"v":0.09},{"x":29,"y":0.1,"v":0.09},{"x":30,"y":0.1,"v":0.09},{"x":31,"y":0.1,"v":0.09},{"x":32,"y":0.1,"v":0.09},{"x":33,"y":0.1,"v":0.09},{"x":34,"y":0.1,"v":0.09},{"x":35,"y":0.1,"v":0.09},{"x":36,"y":0.1,"v":0.09},{"x":37,"y":0.1,"v":0.09},{"x":38,"y":0.1,"v":0.09},{"x":39,"y":0.1,"v":0.09},{"x":40,"y":0.1,"v":0.09},{"x":41,"y":0.1,"v":0.08},{"x":42,"y":0.1,"v":0.098},{"x":43,"y":0.1,"v":0.078},{"x":44,"y":0.1,"v":0.088},{"x":45,"y":0.1,"v":0.088},{"x":46,"y":0.1,"v":0.088},{"x":47,"y":0.1,"v":0.084},{"x":48,"y":0.1,"v":0.085},{"x":49,"y":0.1,"v":0.085},{"x":50,"y":0.1,"v":0.085}
]},"layer":[{"mark":{"type":"rect","strokeWidth":0.8},"encoding":{"x":{"field":"x","type":"ordinal","scale":{"domain":[3,4,5,6,7,8,9,10,11,12,13,14,15,16,17,18,19,20,21,22,23,24,25,26,27,28,29,30,31,32,33,34,35,36,37,38,39,40,41,42,43,44,45,46,47,48,49,50,51,52],"paddingInner":0,"paddingOuter":0},"axis":{"orient":"bottom","values":[3,6,9,12,15,18,21,24,27,30,33,36,39,42,45,48],"tickSize":-6,"labelAngle":0,"labelPadding":7}},"y":{"field":"y","type":"ordinal","scale":{"domain":[2.0,1.9,1.8,1.7,1.6,1.5,1.4,1.3,1.2,1.1,1.0,0.9,0.8,0.7,0.6,0.5,0.4,0.3,0.2,0.1],"paddingInner":0,"paddingOuter":0},"axis":{"orient":"left","tickSize":-6,"labelPadding":10,"labelOffset":1.5,"labelExpr":"format(datum.value,'.1f')"}},"color":{"field":"v","type":"quantitative","scale":{"domain":[0.0774,0.1528,0.1631,0.3106,0.3175,0.3346,0.5164,0.5232,0.5301,0.6878,0.7016,0.7633],"range":["#000080","#0000ff","#0000ff","#00dbff","#00e6f7","#14ffe2","#eeff08","#f7f500","#ffec00","#ff1300","#e80000","#800000"],"interpolate":"rgb"},"legend":null},"stroke":{"field":"v","type":"quantitative","scale":{"domain":[0.0774,0.1528,0.1631,0.3106,0.3175,0.3346,0.5164,0.5232,0.5301,0.6878,0.7016,0.7633],"range":["#000080","#0000ff","#0000ff","#00dbff","#00e6f7","#14ffe2","#eeff08","#f7f500","#ffec00","#ff1300","#e80000","#800000"],"interpolate":"rgb"},"legend":null}}},{"mark":{"type":"rect","opacity":0},"encoding":{"x":{"field":"x","type":"ordinal","scale":{"domain":[3,4,5,6,7,8,9,10,11,12,13,14,15,16,17,18,19,20,21,22,23,24,25,26,27,28,29,30,31,32,33,34,35,36,37,38,39,40,41,42,43,44,45,46,47,48,49,50,51,52],"paddingInner":0,"paddingOuter":0},"axis":{"orient":"top","values":[3,6,9,12,15,18,21,24,27,30,33,36,39,42,45,48],"tickSize":-6,"labels":false}},"y":{"field":"y","type":"ordinal","scale":{"domain":[2.0,1.9,1.8,1.7,1.6,1.5,1.4,1.3,1.2,1.1,1.0,0.9,0.8,0.7,0.6,0.5,0.4,0.3,0.2,0.1],"paddingInner":0,"paddingOuter":0},"axis":{"orient":"right","tickSize":-6,"labels":false}}}}],"resolve":{"axis":{"x":"independent","y":"independent"}}},{"width":57,"height":1146,"view":{"stroke":"black","strokeWidth":1.5},"data":{"values":[{"lo":0.0774,"hi":0.7633}]},"mark":{"type":"rect","color":{"gradient":"linear","x1":0,"y1":1,"x2":0,"y2":0,"stops":[{"offset":0,"color":"#000080"},{"offset":0.11,"color":"#0000ff"},{"offset":0.125,"color":"#0000ff"},{"offset":0.34,"color":"#00dbff"},{"offset":0.35,"color":"#00e6f7"},{"offset":0.375,"color":"#14ffe2"},{"offset":0.64,"color":"#eeff08"},{"offset":0.65,"color":"#f7f500"},{"offset":0.66,"color":"#ffec00"},{"offset":0.89,"color":"#ff1300"},{"offset":0.91,"color":"#e80000"},{"offset":1,"color":"#800000"}]}},"encoding":{"y":{"field":"lo","type":"quantitative","scale":{"domain":[0.0774,0.7633],"nice":false,"zero":false},"axis":{"orient":"right","values":[0.08,0.16,0.24,0.32,0.40,0.48,0.56,0.64,0.72],"format":".2f","tickSize":-6,"labelPadding":10,"labelOffset":1.5}},"y2":{"field":"hi"}}}]}
